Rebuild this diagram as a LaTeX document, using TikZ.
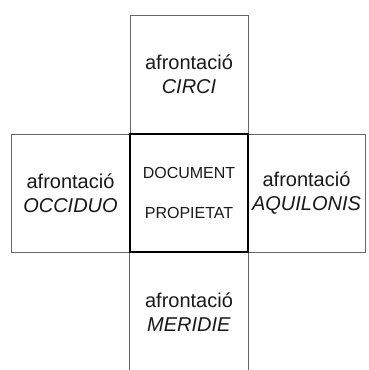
\documentclass[tikz,border=0pt]{standalone}
\usepackage{fontspec}
\setmainfont{Liberation Sans}
\begin{document}
\begin{tikzpicture}[x=1pt,y=-1pt,
  sidebox/.style={draw=black!60, line width=0.8pt, inner sep=0pt, align=center,
    font=\fontsize{20}{24}\selectfont, text=black!90},
  openbox/.style={inner sep=0pt, align=center,
    font=\fontsize{20}{24}\selectfont, text=black!90},
  sideline/.style={draw=black!60, line width=0.8pt},
  centerbox/.style={draw=black, line width=1.6pt, inner sep=0pt, align=center,
    minimum width=118pt, minimum height=118pt,
    font=\fontsize{16}{40}\selectfont, text=black!90}]
\useasboundingbox (0,0) rectangle (369,370);
\node[sidebox, minimum width=118pt, minimum height=119pt] (circi) at (189,74.5) {afrontació\\\textit{CIRCI}};
\node[sidebox, minimum width=119pt, minimum height=118pt] (occiduo) at (70.5,193) {afrontació\\\textit{OCCIDUO}};
\node[sidebox, minimum width=117pt, minimum height=118pt] (aquilonis) at (306.5,193) {afrontació\\\textit{AQUILONIS}};
\node[openbox, minimum width=118pt, minimum height=120pt] (meridie) at (189,312) {afrontació\\\textit{MERIDIE}};
\draw[sideline] (meridie.north west) -- (meridie.south west);
\draw[sideline] (meridie.north east) -- (meridie.south east);
\node[centerbox] (doc) at (189,193) {DOCUMENT\\PROPIETAT};
\end{tikzpicture}
\end{document}
